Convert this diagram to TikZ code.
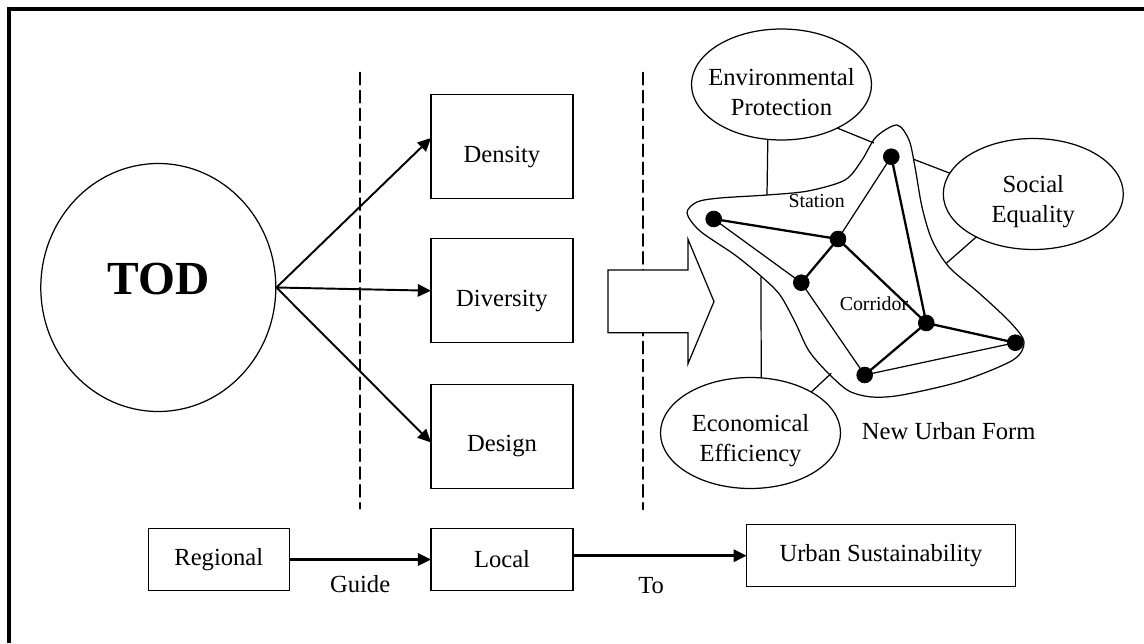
\documentclass[tikz,border=0pt]{standalone}
\RequirePackage{fontspec}
\setmainfont{Liberation Serif}
\RequirePackage{tikz}
\RequirePackage{tkz-euclide}
\usetikzlibrary{arrows.meta}
\usetikzlibrary{shapes.geometric}

\begin{document}
\begin{tikzpicture}[font=\fontsize{14}{17}\selectfont,
                    box/.style={draw,line width=0.75pt,inner sep=0pt,outer sep=0pt,minimum width=2.84cm},
                    oval/.style={draw,ellipse,line width=0.7pt,inner sep=0pt,outer sep=0pt,minimum width=3.6cm,minimum height=2.22cm},
                    txt/.style={yshift=-0.2cm},
                    otxt/.style={align=center,yshift=-0.16cm},
                    arr/.style={-{Triangle[length=7.5pt,width=7pt]},line width=1.1pt}]
                    \useasboundingbox (0,0) rectangle (22.88,12.86);
                    \draw[line width=2.2pt] (0.18,0) -- (0.18,12.68) -- (22.88,12.68);

                    \node[ellipse,draw,line width=0.7pt,inner sep=0pt,minimum width=4.7cm,minimum height=4.96cm,
                          label={[yshift=0.16cm,font=\fontsize{27}{30}\selectfont\bfseries]center:TOD}] (tod) at (3.166,7.11) {};

                    \tkzDefPoint(7.206,11.406){V1}
                    \tkzDefPoint(7.206,2.686){V2}
                    \tkzDefPoint(12.866,11.406){W1}
                    \tkzDefPoint(12.866,2.674){W2}
                    \tkzDrawSegments[dash pattern=on 6.8pt off 3.4pt,line width=1.1pt](V1,V2 W1,W2)

                    \node[box,minimum height=2.08cm,label={[txt]center:Density}] (dens) at (10.04,9.926) {};
                    \node[box,minimum height=2.08cm,label={[txt]center:Diversity}] (div) at (10.04,7.046) {};
                    \node[box,minimum height=2.08cm,label={[txt]center:Design}] (des) at (10.04,4.134) {};
                    \draw[arr] (tod.east) -- (dens.173);
                    \draw[arr] (tod.east) -- (div.west);
                    \draw[arr] (tod.east) -- (des.185);

                    \draw[line width=0.7pt,fill=white] (12.16,7.46) -- (13.76,7.46) -- (13.76,8.074) -- (14.28,6.83)
                          -- (13.76,5.586) -- (13.76,6.206) -- (12.16,6.206) -- cycle;

                    \node[oval,label={[otxt]center:{Environmental\\Protection}}] (env) at (15.63,11.17) {};
                    \node[oval,label={[otxt]center:{Social\\Equality}}] (soc) at (20.666,8.98) {};
                    \node[oval,label={[otxt]center:{Economical\\Efficiency}}] (eco) at (15.01,4.2) {};

                    \draw[line width=0.7pt] plot[smooth cycle,tension=0.5] coordinates {
                          (13.74,8.60) (13.94,8.82) (14.40,8.90) (15.34,8.96) (16.16,9.04) (16.90,9.26)
                          (17.24,9.66) (17.52,10.12) (17.94,10.36) (18.18,10.06) (18.30,9.52) (18.44,8.72)
                          (18.64,8.06) (18.98,7.52) (19.58,7.00) (20.20,6.42) (20.48,6.02) (20.26,5.66)
                          (19.24,5.24) (18.04,4.96) (17.44,4.92) (16.98,5.04) (16.58,5.38) (16.18,5.84)
                          (15.90,6.42) (15.60,6.96) (15.24,7.32) (14.70,7.76) (14.00,8.24)};

                    \tkzDefPoint(17.826,9.726){A}
                    \tkzDefPoint(16.76,8.08){B}
                    \tkzDefPoint(16.026,7.206){C}
                    \tkzDefPoint(14.274,8.48){D}
                    \tkzDefPoint(18.526,6.4){E}
                    \tkzDefPoint(20.306,6.006){F}
                    \tkzDefPoint(17.294,5.36){G}
                    \tkzDrawSegments[line width=0.7pt](D,C B,A C,G G,F)
                    \tkzDrawSegments[line width=1.3pt](D,B A,E B,C B,E G,E E,F)
                    \tkzDrawPoints[fill=black,size=9](A,B,C,D,E,F,G)
                    \node[font=\fontsize{11.3}{13}\selectfont] (stat) at (16.334,8.84) {Station};
                    \node[font=\fontsize{11.3}{13}\selectfont] (corr) at (17.48,6.78) {Corridor};
                    \node (nuf) at (18.974,4.24) {New Urban Form};

                    \tkzDefPoint(15.34,8.96){Q1}
                    \tkzDefPoint(17.48,10.0){Q2}
                    \tkzDefPoint(18.274,9.674){Q3}
                    \tkzDefPoint(18.926,7.594){Q4}
                    \tkzDefPoint(15.22,7.32){Q5}
                    \tkzDefPoint(16.626,5.394){Q6}
                    \draw[line width=0.7pt] (env.-104) -- (Q1);
                    \draw[line width=0.7pt] (env.-38) -- (Q2);
                    \draw[line width=0.7pt] (soc.166) -- (Q3);
                    \draw[line width=0.7pt] (soc.-143) -- (Q4);
                    \draw[line width=0.7pt] (eco.79) -- (Q5);
                    \draw[line width=0.7pt] (eco.34) -- (Q6);

                    \node[box,minimum width=2.82cm,minimum height=1.232cm] (reg) at (4.376,1.67) {Regional};
                    \node[box,minimum height=1.232cm] (loc) at (10.04,1.67) {Local};
                    \node[box,minimum width=5.372cm,minimum height=1.24cm] (urb) at (17.62,1.746) {Urban Sustainability};
                    \draw[arr,line width=1.5pt] (reg) -- node[below=5pt] (guide) {Guide} (loc);
                    \draw[arr,line width=1.5pt] (urb.west -| loc.east) -- node[pos=0.45,below=8pt] (to) {To} (urb.west);
                \end{tikzpicture}
\end{document}
